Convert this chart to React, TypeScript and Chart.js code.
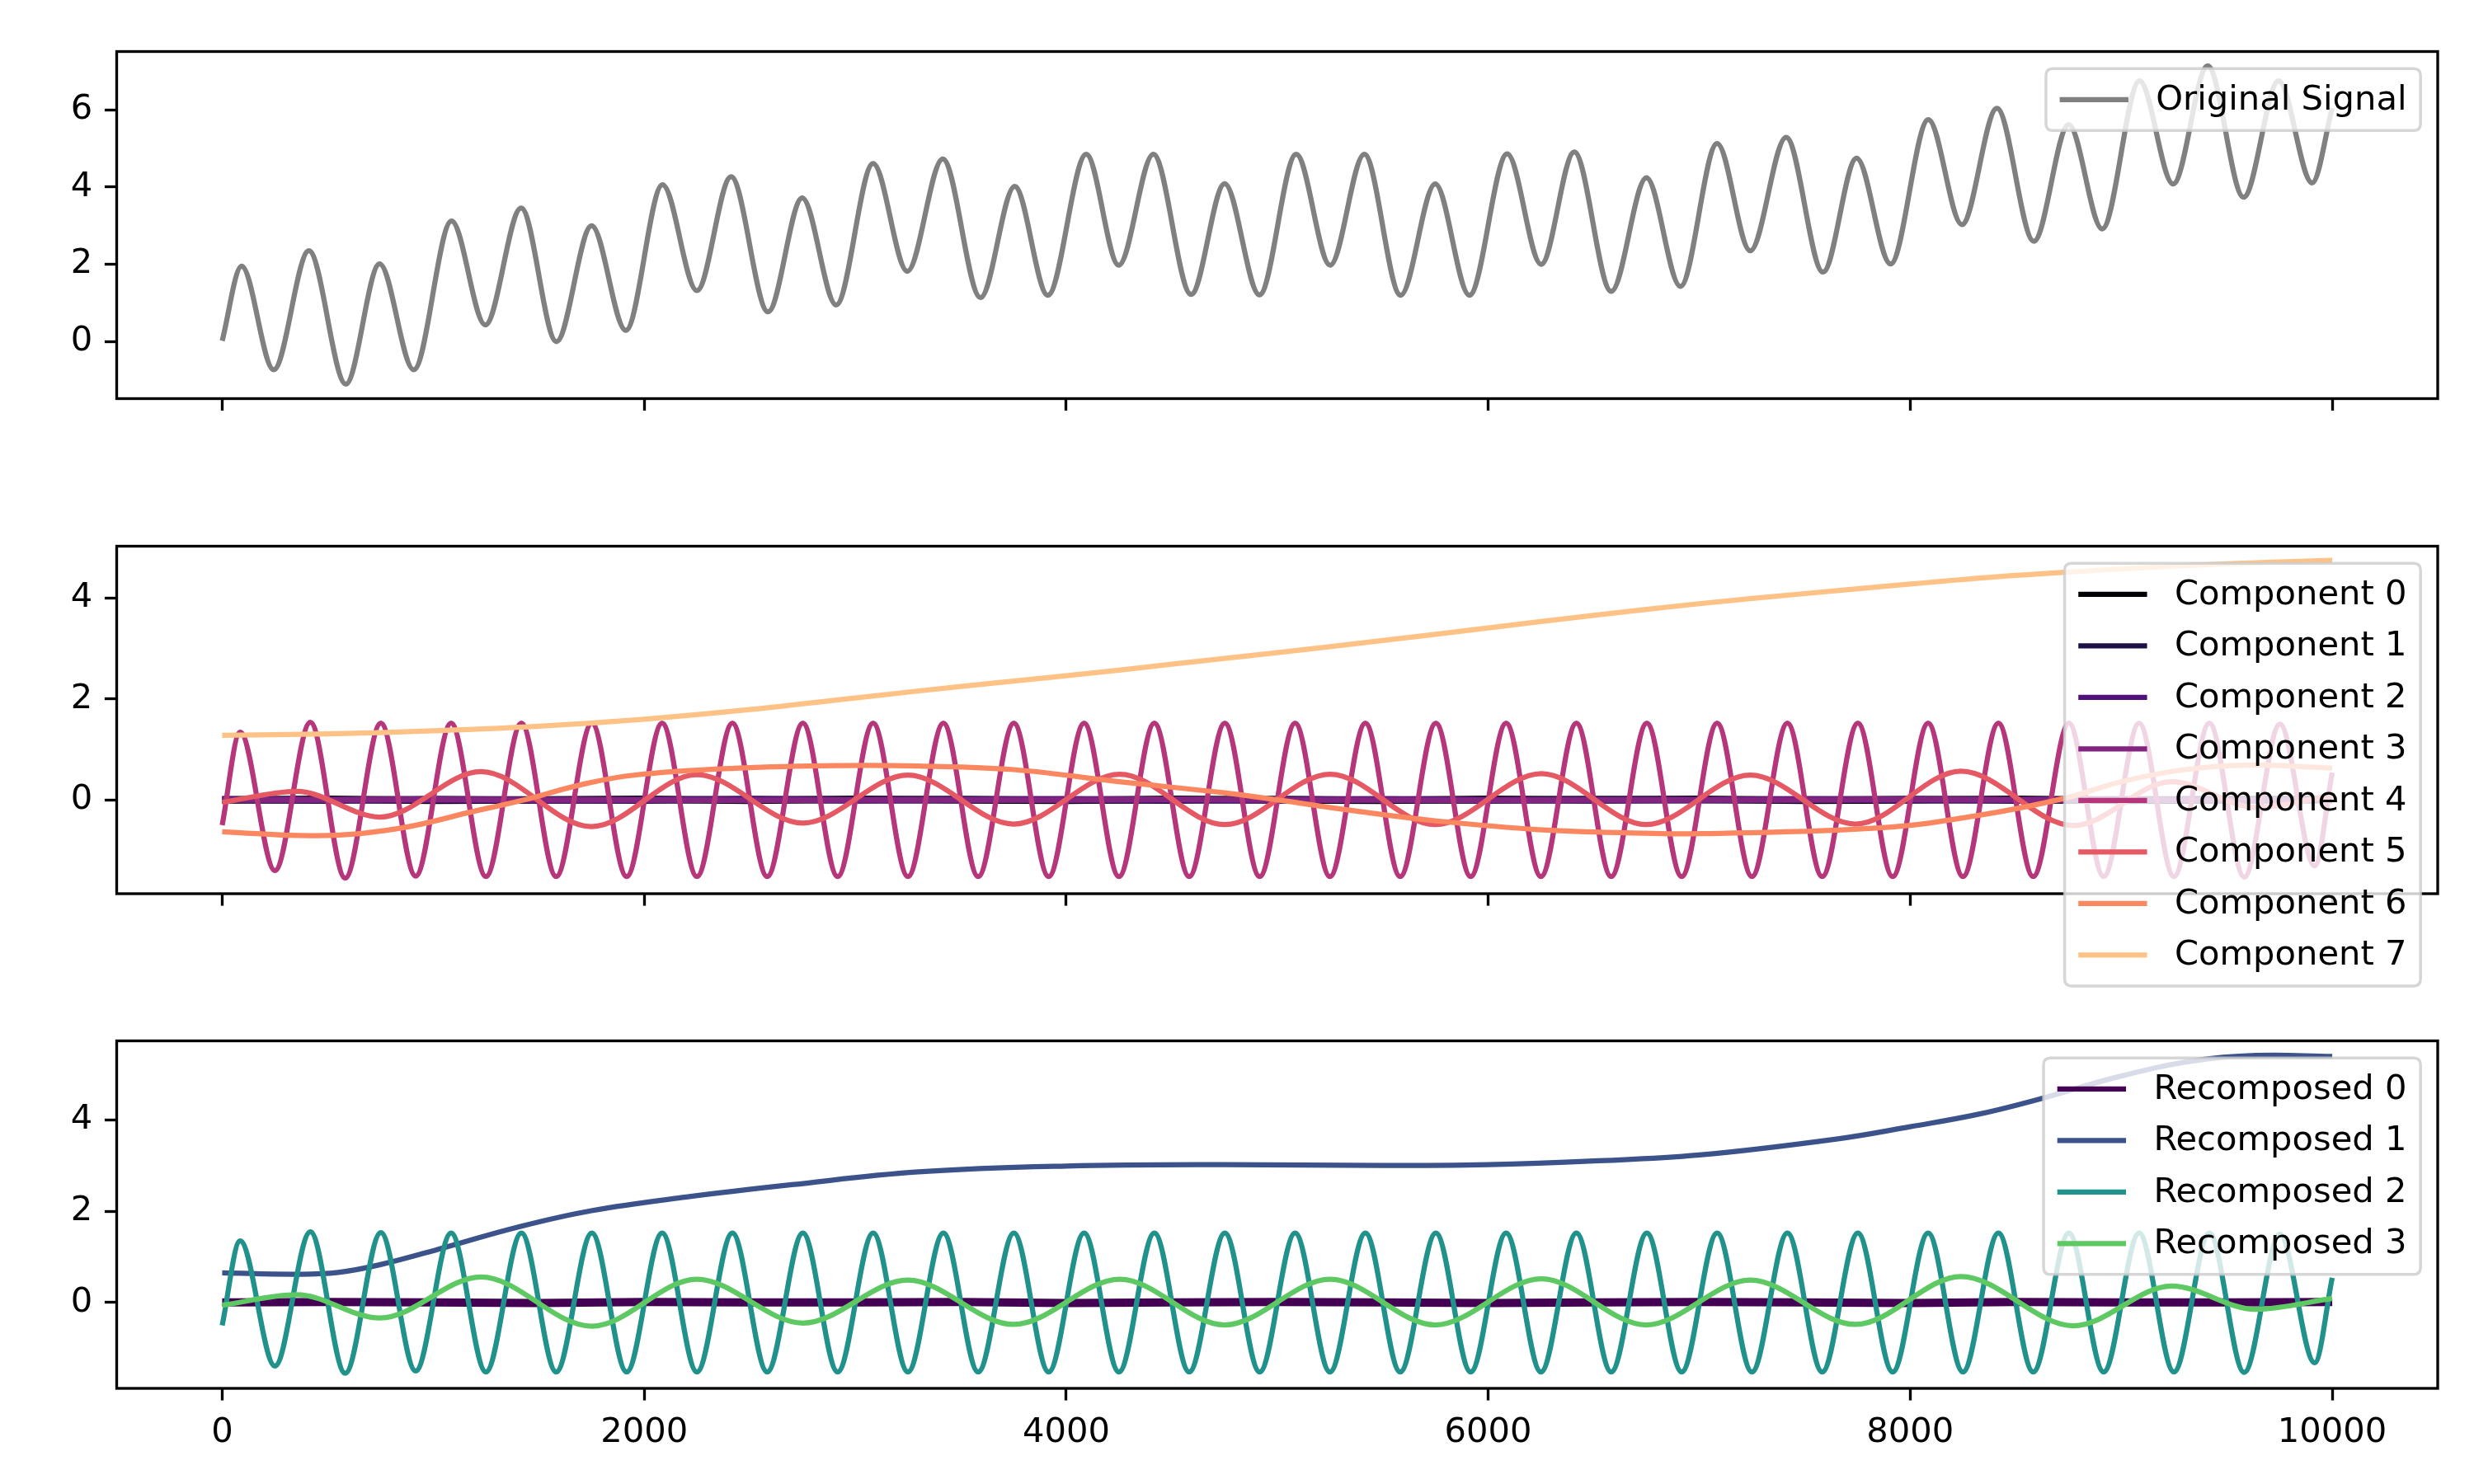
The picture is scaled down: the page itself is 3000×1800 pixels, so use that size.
import React, { useEffect, useRef } from "react";
import { Chart, registerables } from "chart.js";

Chart.register(...registerables);

const FONT = "'DejaVu Sans', sans-serif";
const FS = 41.67;

// ---------- shared x ticks ----------
const xTicks = [0, 2000, 4000, 6000, 8000, 10000];
const topYTicks = [0, 2, 4, 6];
const midYTicks = [0, 2, 4];
const botYTicks = [0, 2, 4];

// ---------- Original signal (extrema) ----------
const originalX = [0, 92, 244, 411, 586, 746, 908, 1087, 1247, 1417, 1584, 1751, 1913, 2087, 2250, 2412, 2587, 2749, 2910, 3085, 3247, 3415, 3594, 3756, 3913, 4095, 4249, 4413, 4592, 4751, 4916, 5090, 5251, 5413, 5585, 5749, 5911, 6090, 6251, 6408, 6583, 6750, 6911, 7085, 7242, 7412, 7587, 7746, 7907, 8086, 8245, 8411, 8586, 8751, 8910, 9087, 9246, 9410, 9580, 9746, 9905, 10000];
const originalY = [0.02, 1.95, -0.73, 2.35, -1.1, 2.01, -0.73, 3.12, 0.43, 3.46, 0.0, 3.0, 0.29, 4.06, 1.32, 4.27, 0.77, 3.72, 0.95, 4.61, 1.82, 4.73, 1.14, 4.02, 1.2, 4.85, 1.98, 4.85, 1.22, 4.09, 1.21, 4.85, 1.98, 4.85, 1.2, 4.08, 1.2, 4.86, 2.0, 4.91, 1.3, 4.24, 1.43, 5.13, 2.35, 5.29, 1.8, 4.75, 2.01, 5.75, 3.03, 6.04, 2.6, 5.62, 2.92, 6.75, 4.08, 7.14, 3.74, 6.75, 4.11, 6.05];

// ---------- Noise-like components (near zero) ----------
const noiseX = [0, 500, 1000, 1500, 2000, 2500, 3000, 3500, 4000, 4500, 5000, 5500, 6000, 6500, 7000, 7500, 8000, 8500, 9000, 9500, 10000];
const component0Y = [0.0, 0.01, -0.01, 0.0, 0.01, -0.01, 0.01, 0.0, -0.01, 0.01, 0.0, -0.01, 0.01, 0.0, 0.01, -0.01, 0.0, 0.01, -0.01, 0.0, 0.01];
const component1Y = [0.0, -0.01, 0.01, 0.0, -0.01, 0.01, 0.0, 0.01, 0.0, -0.01, 0.01, 0.0, -0.01, 0.01, 0.0, 0.0, 0.01, -0.01, 0.0, 0.01, 0.0];
const component2Y = [0.01, 0.0, 0.0, -0.01, 0.0, 0.01, -0.01, 0.0, 0.01, 0.0, -0.01, 0.01, 0.0, -0.01, 0.0, 0.01, 0.0, 0.0, 0.01, -0.01, 0.0];
const component3Y = [0.0, 0.0, 0.01, 0.0, 0.0, -0.01, 0.0, 0.0, 0.0, 0.01, 0.0, 0.0, -0.01, 0.0, 0.0, 0.0, 0.01, 0.0, 0.0, -0.01, 0.0];
const recomposed0Y = [0.0, 0.01, 0.0, -0.01, 0.01, 0.0, 0.0, 0.01, -0.01, 0.0, 0.01, 0.0, -0.01, 0.0, 0.01, 0.0, -0.01, 0.01, 0.0, 0.0, 0.01];

// ---------- Component 4 (fast oscillation, extrema) ----------
const component4X = [0, 85, 250, 418, 583, 752, 917, 1085, 1250, 1418, 1583, 1752, 1917, 2085, 2250, 2418, 2583, 2752, 2917, 3085, 3250, 3418, 3583, 3752, 3917, 4085, 4250, 4418, 4583, 4752, 4917, 5085, 5250, 5418, 5583, 5752, 5917, 6085, 6250, 6418, 6583, 6752, 6917, 7085, 7250, 7418, 7583, 7752, 7917, 8085, 8250, 8418, 8583, 8752, 8917, 9085, 9250, 9418, 9583, 9752, 9917, 10000];
const component4Y = [-0.5, 1.34, -1.4, 1.54, -1.55, 1.52, -1.51, 1.52, -1.52, 1.52, -1.52, 1.52, -1.52, 1.52, -1.52, 1.52, -1.52, 1.52, -1.52, 1.52, -1.52, 1.52, -1.52, 1.52, -1.52, 1.52, -1.52, 1.52, -1.52, 1.52, -1.52, 1.52, -1.52, 1.52, -1.52, 1.52, -1.52, 1.52, -1.52, 1.52, -1.52, 1.52, -1.52, 1.52, -1.52, 1.52, -1.52, 1.52, -1.52, 1.52, -1.52, 1.52, -1.52, 1.52, -1.52, 1.52, -1.52, 1.52, -1.53, 1.5, -1.31, 0.54];

// ---------- Component 5 (1000-period oscillation, extrema) ----------
const component5X = [0, 354, 748, 1227, 1751, 2250, 2753, 3250, 3751, 4254, 4751, 5251, 5749, 6252, 6749, 7242, 7741, 8241, 8774, 9239, 9637, 10000];
const component5Y = [-0.05, 0.17, -0.34, 0.56, -0.53, 0.5, -0.46, 0.49, -0.48, 0.51, -0.49, 0.51, -0.49, 0.52, -0.49, 0.49, -0.48, 0.57, -0.51, 0.36, -0.15, 0.09];

// ---------- Component 6 (slow wave) ----------
const component6X = [0, 450, 830, 1200, 1430, 1700, 1950, 2450, 2950, 3300, 3750, 4250, 4750, 5000, 5370, 5740, 6240, 6740, 7000, 7870, 8320, 8730, 9000, 9300, 9600, 10000];
const component6Y = [-0.63, -0.71, -0.57, -0.22, 0.0, 0.3, 0.49, 0.63, 0.68, 0.67, 0.6, 0.36, 0.14, 0.0, -0.22, -0.41, -0.59, -0.66, -0.67, -0.55, -0.31, 0.03, 0.36, 0.6, 0.69, 0.63];

// ---------- Component 7 (trend) ----------
const component7X = [0, 500, 1000, 1500, 2000, 2500, 3000, 3500, 4000, 4500, 5000, 5500, 6000, 6500, 7000, 7500, 8000, 8500, 9000, 9500, 10000];
const component7Y = [1.28, 1.31, 1.37, 1.46, 1.6, 1.79, 2.02, 2.25, 2.46, 2.69, 2.92, 3.16, 3.41, 3.66, 3.89, 4.09, 4.28, 4.45, 4.58, 4.68, 4.75];

// ---------- Recomposed 1 (trend + slow wave) ----------
const recomposed1X = [0, 350, 550, 750, 1050, 1400, 1750, 2200, 2700, 3300, 4000, 4750, 5500, 6000, 6500, 7000, 7650, 8000, 8320, 8600, 9000, 9340, 9640, 10000];
const recomposed1Y = [0.65, 0.62, 0.66, 0.83, 1.2, 1.65, 2.01, 2.31, 2.58, 2.86, 2.99, 3.02, 3.0, 3.02, 3.1, 3.23, 3.58, 3.85, 4.12, 4.44, 4.96, 5.29, 5.41, 5.39];

// ---------- Recomposed 2 / 3 (same oscillations as components 4 / 5) ----------
const recomposed2X = component4X;
const recomposed2Y = [-0.5, 1.35, -1.39, 1.55, -1.55, 1.53, -1.5, 1.52, -1.52, 1.52, -1.52, 1.52, -1.52, 1.52, -1.52, 1.52, -1.52, 1.52, -1.52, 1.52, -1.52, 1.52, -1.52, 1.52, -1.52, 1.52, -1.52, 1.52, -1.52, 1.52, -1.52, 1.52, -1.52, 1.52, -1.52, 1.52, -1.52, 1.52, -1.52, 1.52, -1.52, 1.52, -1.52, 1.52, -1.52, 1.52, -1.52, 1.52, -1.52, 1.52, -1.52, 1.52, -1.52, 1.52, -1.52, 1.52, -1.52, 1.52, -1.53, 1.5, -1.32, 0.54];
const recomposed3X = component5X;
const recomposed3Y = [-0.06, 0.17, -0.34, 0.56, -0.52, 0.51, -0.45, 0.49, -0.48, 0.51, -0.49, 0.51, -0.49, 0.52, -0.49, 0.49, -0.48, 0.57, -0.51, 0.36, -0.15, 0.09];

type Mode = "mono" | "spline" | "linear";
type Series = { label: string; x: number[]; y: number[]; color: string; width: number; mode: Mode };

const topSeries: Series[] = [
  { label: "Original Signal", x: originalX, y: originalY, color: "#808080", width: 6.25, mode: "mono" },
];

const midSeries: Series[] = [
  { label: "Component 0", x: noiseX, y: component0Y, color: "#000004", width: 9, mode: "linear" },
  { label: "Component 1", x: noiseX, y: component1Y, color: "#1c1044", width: 8.5, mode: "linear" },
  { label: "Component 2", x: noiseX, y: component2Y, color: "#4f127b", width: 8, mode: "linear" },
  { label: "Component 3", x: noiseX, y: component3Y, color: "#812581", width: 7, mode: "linear" },
  { label: "Component 4", x: component4X, y: component4Y, color: "#b5367a", width: 6.25, mode: "mono" },
  { label: "Component 5", x: component5X, y: component5Y, color: "#e55964", width: 6.25, mode: "mono" },
  { label: "Component 6", x: component6X, y: component6Y, color: "#fb8761", width: 6.25, mode: "spline" },
  { label: "Component 7", x: component7X, y: component7Y, color: "#fec287", width: 6.25, mode: "spline" },
];

const botSeries: Series[] = [
  { label: "Recomposed 0", x: noiseX, y: recomposed0Y, color: "#440154", width: 10, mode: "linear" },
  { label: "Recomposed 1", x: recomposed1X, y: recomposed1Y, color: "#3b528b", width: 6.25, mode: "spline" },
  { label: "Recomposed 2", x: recomposed2X, y: recomposed2Y, color: "#21918c", width: 6.25, mode: "mono" },
  { label: "Recomposed 3", x: recomposed3X, y: recomposed3Y, color: "#5ec962", width: 6.25, mode: "mono" },
];

const framePlugin = {
  id: "mplFrame",
  afterDatasetsDraw(chart: any) {
    const { ctx, chartArea: a } = chart;
    ctx.save();
    ctx.strokeStyle = "#000";
    ctx.lineWidth = 3.33;
    ctx.strokeRect(a.left, a.top, a.right - a.left, a.bottom - a.top);
    ctx.restore();
  },
};

const legendPlugin = {
  id: "mplLegend",
  afterDraw(chart: any) {
    const { ctx, chartArea: a } = chart;
    const ds = chart.data.datasets;
    ctx.save();
    ctx.font = `${FS}px ${FONT}`;
    const bp = 0.4 * FS, ls = 0.5 * FS, hl = 2 * FS, htp = 0.8 * FS, bap = 0.5 * FS;
    const rowH = FS;
    let textW = 0;
    ds.forEach((d: any) => { textW = Math.max(textW, ctx.measureText(d.label).width); });
    const w = bp * 2 + hl + htp + textW;
    const h = bp * 2 + ds.length * rowH + (ds.length - 1) * ls;
    const x0 = a.right - bap - w;
    const y0 = a.top + bap;
    const r = 0.2 * FS;
    ctx.beginPath();
    ctx.moveTo(x0 + r, y0);
    ctx.lineTo(x0 + w - r, y0);
    ctx.quadraticCurveTo(x0 + w, y0, x0 + w, y0 + r);
    ctx.lineTo(x0 + w, y0 + h - r);
    ctx.quadraticCurveTo(x0 + w, y0 + h, x0 + w - r, y0 + h);
    ctx.lineTo(x0 + r, y0 + h);
    ctx.quadraticCurveTo(x0, y0 + h, x0, y0 + h - r);
    ctx.lineTo(x0, y0 + r);
    ctx.quadraticCurveTo(x0, y0, x0 + r, y0);
    ctx.closePath();
    ctx.fillStyle = "rgba(255,255,255,0.8)";
    ctx.fill();
    ctx.strokeStyle = "rgba(204,204,204,0.8)";
    ctx.lineWidth = 3.5;
    ctx.stroke();
    ds.forEach((d: any, i: number) => {
      const cy = y0 + bp + i * (rowH + ls) + rowH / 2;
      ctx.beginPath();
      ctx.moveTo(x0 + bp, cy);
      ctx.lineTo(x0 + bp + hl, cy);
      ctx.strokeStyle = d.borderColor;
      ctx.lineWidth = 6.25;
      ctx.lineCap = "butt";
      ctx.stroke();
      ctx.fillStyle = "#000";
      ctx.textBaseline = "middle";
      ctx.textAlign = "left";
      ctx.fillText(d.label, x0 + bp + hl + htp, cy + 1);
    });
    ctx.restore();
  },
};

function makeConfig(series: Series[], yMin: number, yMax: number, yTicks: number[], showXLabels: boolean, xAxisHeight: number, padTop: number) {
  const tickFont = { family: FONT, size: FS };
  return {
    type: "line",
    data: {
      datasets: series.map((s, i) => ({
        label: s.label,
        data: s.x.map((xv, j) => ({ x: xv, y: s.y[j] })),
        borderColor: s.color,
        backgroundColor: s.color,
        borderWidth: s.width,
        pointRadius: 0,
        fill: false,
        tension: s.mode === "spline" ? 0.4 : 0,
        cubicInterpolationMode: s.mode === "mono" ? "monotone" : "default",
        borderCapStyle: "butt",
        borderJoinStyle: "round",
        order: series.length - i,
      })),
    },
    options: {
      animation: false,
      responsive: false,
      devicePixelRatio: 1,
      layout: { padding: { top: padTop, right: 44, left: 0, bottom: 0 } },
      plugins: { legend: { display: false }, tooltip: { enabled: false } },
      scales: {
        x: {
          type: "linear",
          min: -500,
          max: 10500,
          afterBuildTicks: (sc: any) => { sc.ticks = xTicks.map((v) => ({ value: v })); },
          afterFit: (sc: any) => { sc.height = xAxisHeight; },
          grid: { display: true, drawOnChartArea: false, drawTicks: true, tickLength: 14.6, tickWidth: 3.33, tickColor: "#000" },
          border: { display: false },
          ticks: {
            autoSkip: false,
            maxRotation: 0,
            padding: 14.6,
            color: "#000",
            font: tickFont,
            callback: (v: any) => (showXLabels ? String(v) : ""),
          },
        },
        y: {
          type: "linear",
          min: yMin,
          max: yMax,
          afterBuildTicks: (sc: any) => { sc.ticks = yTicks.map((v) => ({ value: v })); },
          afterFit: (sc: any) => { sc.width = 141.5; },
          grid: { display: true, drawOnChartArea: false, drawTicks: true, tickLength: 14.6, tickWidth: 3.33, tickColor: "#000" },
          border: { display: false },
          ticks: {
            autoSkip: false,
            padding: 14.6,
            color: "#000",
            font: tickFont,
            callback: (v: any) => String(v),
          },
        },
      },
    },
    plugins: [framePlugin, legendPlugin],
  };
}

function Panel(props: { top: number; height: number; config: any }) {
  const ref = useRef<HTMLCanvasElement | null>(null);
  useEffect(() => {
    if (!ref.current) return;
    const chart = new Chart(ref.current, props.config);
    return () => chart.destroy();
  }, []);
  return (
    <canvas
      ref={ref}
      width={3000}
      height={props.height}
      style={{ position: "absolute", left: 0, top: props.top, width: 3000, height: props.height }}
    />
  );
}

export default function App() {
  const cfgTop = makeConfig(topSeries, -1.478, 7.512, topYTicks, false, 560 - 483.5, 62.5);
  const cfgMid = makeConfig(midSeries, -1.86, 5.03, midYTicks, false, 1220 - 1084, 662.5 - 560);
  const cfgBot = makeConfig(botSeries, -1.88, 5.73, botYTicks, true, 1800 - 1684, 1262.5 - 1220);
  return (
    <div style={{ position: "absolute", left: 0, top: 0, width: 3000, height: 1800, background: "#ffffff" }}>
      <Panel top={0} height={560} config={cfgTop} />
      <Panel top={560} height={660} config={cfgMid} />
      <Panel top={1220} height={580} config={cfgBot} />
    </div>
  );
}
